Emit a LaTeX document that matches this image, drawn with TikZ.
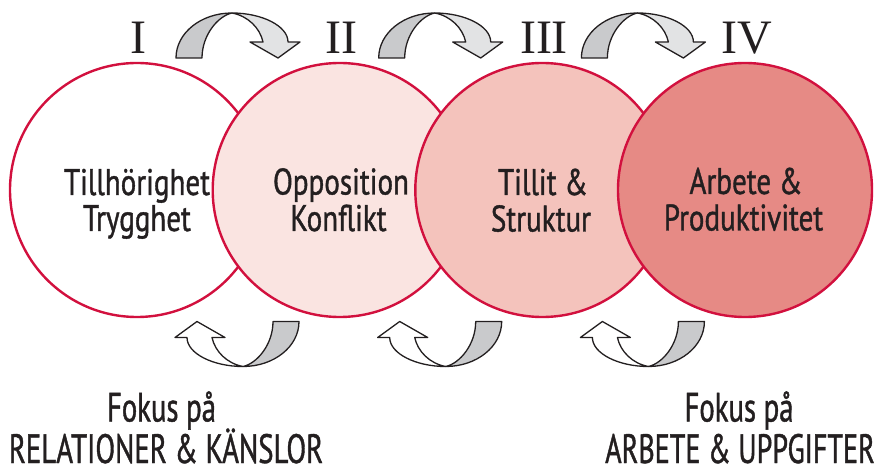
\documentclass[tikz,border=0pt]{standalone}
\usepackage{fontspec}
\setmainfont{PT Sans}
\newfontfamily\circfont{PT Sans}[FakeStretch=0.785, FakeBold=1]
\newfontfamily\botfont{PT Sans}[FakeStretch=0.70, FakeBold=1]
\newfontfamily\botfontB{PT Sans}[FakeStretch=0.685, FakeBold=1]
\newfontfamily\numfont{Liberation Serif}
\definecolor{ringred}{HTML}{D2103E}
\definecolor{pinkA}{HTML}{FAE4E1}
\definecolor{pinkB}{HTML}{F4C3BC}
\definecolor{pinkC}{HTML}{E68A85}
\definecolor{greyDark}{HTML}{C9CACC}
\definecolor{greyLight}{HTML}{E2E3E4}
\definecolor{inkc}{HTML}{231F20}
\begin{document}
\begin{tikzpicture}[x=1pt,y=-1pt,
  ring/.style={circle, draw=ringred, line width=2.4pt, minimum size=254pt, inner sep=0pt},
  ctext/.style={anchor=base, inner sep=0pt, text=inkc, font=\circfont\fontsize{37}{36}\selectfont},
  btext/.style={anchor=base, inner sep=0pt, text=inkc, font=\botfont\fontsize{41}{44}\selectfont},
  numeral/.style={anchor=base, inner sep=0pt, text=inkc, font=\numfont\fontsize{48}{48}\selectfont},
  arrowline/.style={draw=inkc, line width=1.3pt, line join=round},
  pics/twist/.style={code={
    \filldraw[arrowline, fill=#1] (-5.5,-22.5) .. controls (24.5,-22.5) and (50.5,-9.5) .. (50.5,6.5)
      -- (62.5,6.5) -- (40.5,22.5) -- (12.5,6.5) -- (25.5,6.5)
      .. controls (22.5,-7.5) and (10.5,-19.5) .. cycle;
    \filldraw[arrowline, fill=greyDark] (-61.5,22.5) .. controls (-61.5,-2.5) and (-36.5,-22.5) .. (-5.5,-22.5)
      .. controls (-19.5,-19.5) and (-35.5,-0.5) .. (-35.5,22.5) -- cycle;
  }}
]
\useasboundingbox[fill=white] (0,0) rectangle (875,470);

% circles
\node[ring, fill=white] (c1) at (137,190) {};
\node[ring, fill=pinkA] (c2) at (339.7,190) {};
\node[ring, fill=pinkB] (c3) at (542.3,190) {};
\node[ring, fill=pinkC] (c4) at (745,190) {};

% circle texts
\node[ctext] (t1a) at (137,195) {Tillhörighet};
\node[ctext] (t1b) at (137,231) {Trygghet};
\node[ctext] (t2a) at (341,194.5) {Opposition};
\node[ctext] (t2b) at (338.5,231) {Konflikt};
\node[ctext] (t3a) at (543,195) {Tillit \&};
\node[ctext] (t3b) at (541,231.5) {Struktur};
\node[ctext] (t4a) at (746,194) {Arbete \&};
\node[ctext] (t4b) at (743.5,230.5) {Produktivitet};

% numerals
\node[numeral] (n1) at (138,54) {I};
\node[numeral] (n2) at (341,54) {II};
\node[numeral] (n3) at (544,54) {III};
\node[numeral] (n4) at (747,54) {IV};

% top arrows
\pic at (237.5,35.5) {twist=greyLight};
\pic at (440.2,35.5) {twist=greyLight};
\pic at (642.9,35.5) {twist=greyLight};

% bottom arrows
\pic[rotate=180] at (237.5,344) {twist=white};
\pic[rotate=180] at (440.2,344) {twist=white};
\pic[rotate=180] at (642.9,344) {twist=white};

% bottom texts
\node[btext] (f1) at (161.5,421.5) {Fokus på};
\node[btext] (r1) at (166,463) {RELATIONER \& KÄNSLOR};
\node[btext] (f2) at (739,421.5) {Fokus på};
\node[btext, font=\botfontB\fontsize{41}{44}\selectfont] (r2) at (740,463) {ARBETE \& UPPGIFTER};
\end{tikzpicture}
\end{document}
